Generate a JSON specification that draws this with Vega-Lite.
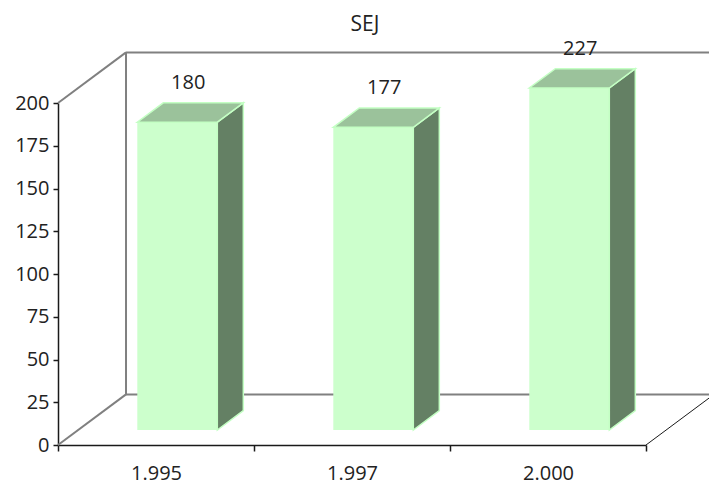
{
  "$schema": "https://vega.github.io/schema/vega-lite/v6.json",
  "width": 588,
  "height": 342,
  "autosize": {"type": "none"},
  "padding": {"left": 58, "top": 103, "right": 63, "bottom": 39},
  "background": "white",
  "title": {"text": "SEJ", "font": "Open Sans", "fontSize": 21, "fontWeight": "normal", "color": "#222222", "anchor": "middle", "frame": "group", "dx": 13, "baseline": "bottom", "offset": -17},
  "config": {
    "view": {"stroke": null},
    "text": {"font": "Open Sans"}
  },
  "data": {"values": [
    {"year": "1.995", "value": 180},
    {"year": "1.997", "value": 177},
    {"year": "2.000", "value": 227}
  ]},
  "transform": [
    {"window": [{"op": "row_number", "as": "rn"}]},
    {"calculate": "datum.rn - 1", "as": "i"},
    {"calculate": "min(datum.value, 200)", "as": "h"},
    {"calculate": "datum.i + 0.4046", "as": "xl"},
    {"calculate": "datum.i + 0.8128", "as": "xr"},
    {"calculate": "8.76", "as": "yb"},
    {"calculate": "8.76 + datum.h", "as": "yt"}
  ],
  "layer": [
    {
      "data": {"values": [{}]},
      "mark": {"type": "rule", "color": "#808080", "strokeWidth": 2},
      "encoding": {
        "x": {"datum": 0, "type": "quantitative", "title": null, "scale": {"domain": [0, 3], "nice": false, "zero": false},
          "axis": {"values": [0, 0.5, 1, 1.5, 2, 2.5, 3], "labelExpr": "datum.value == 0.5 ? '1.995' : datum.value == 1.5 ? '1.997' : datum.value == 2.5 ? '2.000' : ''", "tickOpacity": {"condition": {"test": "datum.value % 1 != 0", "value": 0}, "value": 1}, "tickSize": 6, "tickColor": "#1a1a1a", "tickWidth": 1.5, "domainColor": "#1a1a1a", "domainWidth": 1.5, "grid": false, "labelOverlap": false, "labelFlush": false, "labelBound": false, "labelFont": "Open Sans", "labelFontSize": 20, "labelColor": "#222222", "labelPadding": 12}},
        "y": {"datum": 0, "type": "quantitative", "title": null, "scale": {"domain": [0, 200], "nice": false, "zero": false},
          "axis": {"values": [0, 25, 50, 75, 100, 125, 150, 175, 200], "tickSize": 5, "tickColor": "#1a1a1a", "tickWidth": 1.5, "domainColor": "#1a1a1a", "domainWidth": 1.5, "grid": false, "labelOverlap": false, "labelFlush": false, "labelBound": false, "labelFont": "Open Sans", "labelFontSize": 20, "labelColor": "#222222", "labelPadding": 4}},
        "x2": {"datum": 0.347},
        "y2": {"datum": 29.6}
      }
    },
    {
      "data": {"values": [{}]},
      "mark": {"type": "rule", "color": "#808080", "strokeWidth": 2},
      "encoding": {
        "x": {"datum": 0, "type": "quantitative", "title": null, "scale": {"domain": [0, 3], "nice": false, "zero": false},
          "axis": {"values": [0, 0.5, 1, 1.5, 2, 2.5, 3], "labelExpr": "datum.value == 0.5 ? '1.995' : datum.value == 1.5 ? '1.997' : datum.value == 2.5 ? '2.000' : ''", "tickOpacity": {"condition": {"test": "datum.value % 1 != 0", "value": 0}, "value": 1}, "tickSize": 6, "tickColor": "#1a1a1a", "tickWidth": 1.5, "domainColor": "#1a1a1a", "domainWidth": 1.5, "grid": false, "labelOverlap": false, "labelFlush": false, "labelBound": false, "labelFont": "Open Sans", "labelFontSize": 20, "labelColor": "#222222", "labelPadding": 12}},
        "y": {"datum": 200, "type": "quantitative", "title": null, "scale": {"domain": [0, 200], "nice": false, "zero": false},
          "axis": {"values": [0, 25, 50, 75, 100, 125, 150, 175, 200], "tickSize": 5, "tickColor": "#1a1a1a", "tickWidth": 1.5, "domainColor": "#1a1a1a", "domainWidth": 1.5, "grid": false, "labelOverlap": false, "labelFlush": false, "labelBound": false, "labelFont": "Open Sans", "labelFontSize": 20, "labelColor": "#222222", "labelPadding": 4}},
        "x2": {"datum": 0.347},
        "y2": {"datum": 229.6}
      }
    },
    {
      "data": {"values": [{}]},
      "mark": {"type": "rule", "color": "#808080", "strokeWidth": 2},
      "encoding": {
        "x": {"datum": 0.347, "type": "quantitative", "title": null, "scale": {"domain": [0, 3], "nice": false, "zero": false},
          "axis": {"values": [0, 0.5, 1, 1.5, 2, 2.5, 3], "labelExpr": "datum.value == 0.5 ? '1.995' : datum.value == 1.5 ? '1.997' : datum.value == 2.5 ? '2.000' : ''", "tickOpacity": {"condition": {"test": "datum.value % 1 != 0", "value": 0}, "value": 1}, "tickSize": 6, "tickColor": "#1a1a1a", "tickWidth": 1.5, "domainColor": "#1a1a1a", "domainWidth": 1.5, "grid": false, "labelOverlap": false, "labelFlush": false, "labelBound": false, "labelFont": "Open Sans", "labelFontSize": 20, "labelColor": "#222222", "labelPadding": 12}},
        "y": {"datum": 29.6, "type": "quantitative", "title": null, "scale": {"domain": [0, 200], "nice": false, "zero": false},
          "axis": {"values": [0, 25, 50, 75, 100, 125, 150, 175, 200], "tickSize": 5, "tickColor": "#1a1a1a", "tickWidth": 1.5, "domainColor": "#1a1a1a", "domainWidth": 1.5, "grid": false, "labelOverlap": false, "labelFlush": false, "labelBound": false, "labelFont": "Open Sans", "labelFontSize": 20, "labelColor": "#222222", "labelPadding": 4}},
        "y2": {"datum": 229.6}
      }
    },
    {
      "data": {"values": [{}]},
      "mark": {"type": "rule", "color": "#808080", "strokeWidth": 2},
      "encoding": {
        "x": {"datum": 0.347, "type": "quantitative", "title": null, "scale": {"domain": [0, 3], "nice": false, "zero": false},
          "axis": {"values": [0, 0.5, 1, 1.5, 2, 2.5, 3], "labelExpr": "datum.value == 0.5 ? '1.995' : datum.value == 1.5 ? '1.997' : datum.value == 2.5 ? '2.000' : ''", "tickOpacity": {"condition": {"test": "datum.value % 1 != 0", "value": 0}, "value": 1}, "tickSize": 6, "tickColor": "#1a1a1a", "tickWidth": 1.5, "domainColor": "#1a1a1a", "domainWidth": 1.5, "grid": false, "labelOverlap": false, "labelFlush": false, "labelBound": false, "labelFont": "Open Sans", "labelFontSize": 20, "labelColor": "#222222", "labelPadding": 12}},
        "y": {"datum": 29.6, "type": "quantitative", "title": null, "scale": {"domain": [0, 200], "nice": false, "zero": false},
          "axis": {"values": [0, 25, 50, 75, 100, 125, 150, 175, 200], "tickSize": 5, "tickColor": "#1a1a1a", "tickWidth": 1.5, "domainColor": "#1a1a1a", "domainWidth": 1.5, "grid": false, "labelOverlap": false, "labelFlush": false, "labelBound": false, "labelFont": "Open Sans", "labelFontSize": 20, "labelColor": "#222222", "labelPadding": 4}},
        "x2": {"datum": 3.347}
      }
    },
    {
      "data": {"values": [{}]},
      "mark": {"type": "rule", "color": "#808080", "strokeWidth": 2},
      "encoding": {
        "x": {"datum": 0.347, "type": "quantitative", "title": null, "scale": {"domain": [0, 3], "nice": false, "zero": false},
          "axis": {"values": [0, 0.5, 1, 1.5, 2, 2.5, 3], "labelExpr": "datum.value == 0.5 ? '1.995' : datum.value == 1.5 ? '1.997' : datum.value == 2.5 ? '2.000' : ''", "tickOpacity": {"condition": {"test": "datum.value % 1 != 0", "value": 0}, "value": 1}, "tickSize": 6, "tickColor": "#1a1a1a", "tickWidth": 1.5, "domainColor": "#1a1a1a", "domainWidth": 1.5, "grid": false, "labelOverlap": false, "labelFlush": false, "labelBound": false, "labelFont": "Open Sans", "labelFontSize": 20, "labelColor": "#222222", "labelPadding": 12}},
        "y": {"datum": 229.6, "type": "quantitative", "title": null, "scale": {"domain": [0, 200], "nice": false, "zero": false},
          "axis": {"values": [0, 25, 50, 75, 100, 125, 150, 175, 200], "tickSize": 5, "tickColor": "#1a1a1a", "tickWidth": 1.5, "domainColor": "#1a1a1a", "domainWidth": 1.5, "grid": false, "labelOverlap": false, "labelFlush": false, "labelBound": false, "labelFont": "Open Sans", "labelFontSize": 20, "labelColor": "#222222", "labelPadding": 4}},
        "x2": {"datum": 3.347}
      }
    },
    {
      "data": {"values": [{}]},
      "mark": {"type": "rule", "color": "#1a1a1a", "strokeWidth": 1},
      "encoding": {
        "x": {"datum": 3, "type": "quantitative", "title": null, "scale": {"domain": [0, 3], "nice": false, "zero": false},
          "axis": {"values": [0, 0.5, 1, 1.5, 2, 2.5, 3], "labelExpr": "datum.value == 0.5 ? '1.995' : datum.value == 1.5 ? '1.997' : datum.value == 2.5 ? '2.000' : ''", "tickOpacity": {"condition": {"test": "datum.value % 1 != 0", "value": 0}, "value": 1}, "tickSize": 6, "tickColor": "#1a1a1a", "tickWidth": 1.5, "domainColor": "#1a1a1a", "domainWidth": 1.5, "grid": false, "labelOverlap": false, "labelFlush": false, "labelBound": false, "labelFont": "Open Sans", "labelFontSize": 20, "labelColor": "#222222", "labelPadding": 12}},
        "y": {"datum": 0, "type": "quantitative", "title": null, "scale": {"domain": [0, 200], "nice": false, "zero": false},
          "axis": {"values": [0, 25, 50, 75, 100, 125, 150, 175, 200], "tickSize": 5, "tickColor": "#1a1a1a", "tickWidth": 1.5, "domainColor": "#1a1a1a", "domainWidth": 1.5, "grid": false, "labelOverlap": false, "labelFlush": false, "labelBound": false, "labelFont": "Open Sans", "labelFontSize": 20, "labelColor": "#222222", "labelPadding": 4}},
        "x2": {"datum": 3.347},
        "y2": {"datum": 29.6}
      }
    },
    {
      "mark": {"type": "rect", "fill": "#CCFFCC"},
      "encoding": {
        "x": {"field": "xl", "type": "quantitative", "title": null, "scale": {"domain": [0, 3], "nice": false, "zero": false},
          "axis": {"values": [0, 0.5, 1, 1.5, 2, 2.5, 3], "labelExpr": "datum.value == 0.5 ? '1.995' : datum.value == 1.5 ? '1.997' : datum.value == 2.5 ? '2.000' : ''", "tickOpacity": {"condition": {"test": "datum.value % 1 != 0", "value": 0}, "value": 1}, "tickSize": 6, "tickColor": "#1a1a1a", "tickWidth": 1.5, "domainColor": "#1a1a1a", "domainWidth": 1.5, "grid": false, "labelOverlap": false, "labelFlush": false, "labelBound": false, "labelFont": "Open Sans", "labelFontSize": 20, "labelColor": "#222222", "labelPadding": 12}},
        "x2": {"field": "xr"},
        "y": {"field": "yb", "type": "quantitative", "title": null, "scale": {"domain": [0, 200], "nice": false, "zero": false},
          "axis": {"values": [0, 25, 50, 75, 100, 125, 150, 175, 200], "tickSize": 5, "tickColor": "#1a1a1a", "tickWidth": 1.5, "domainColor": "#1a1a1a", "domainWidth": 1.5, "grid": false, "labelOverlap": false, "labelFlush": false, "labelBound": false, "labelFont": "Open Sans", "labelFontSize": 20, "labelColor": "#222222", "labelPadding": 4}},
        "y2": {"field": "yt"}
      }
    },
    {
      "transform": [
        {"calculate": "[0, 1]", "as": "k"},
        {"flatten": ["k"]},
        {"calculate": "datum.xr + datum.k * 0.1327", "as": "sx"},
        {"calculate": "datum.yb + datum.k * 11.33", "as": "sy"},
        {"calculate": "datum.yt + datum.k * 11.33", "as": "sy2"}
      ],
      "mark": {"type": "area", "orient": "vertical", "fill": "#648064", "stroke": "#C4FFC4", "strokeWidth": 1.5},
      "encoding": {
        "x": {"field": "sx", "type": "quantitative", "title": null, "scale": {"domain": [0, 3], "nice": false, "zero": false},
          "axis": {"values": [0, 0.5, 1, 1.5, 2, 2.5, 3], "labelExpr": "datum.value == 0.5 ? '1.995' : datum.value == 1.5 ? '1.997' : datum.value == 2.5 ? '2.000' : ''", "tickOpacity": {"condition": {"test": "datum.value % 1 != 0", "value": 0}, "value": 1}, "tickSize": 6, "tickColor": "#1a1a1a", "tickWidth": 1.5, "domainColor": "#1a1a1a", "domainWidth": 1.5, "grid": false, "labelOverlap": false, "labelFlush": false, "labelBound": false, "labelFont": "Open Sans", "labelFontSize": 20, "labelColor": "#222222", "labelPadding": 12}},
        "y": {"field": "sy2", "type": "quantitative", "title": null, "stack": null, "scale": {"domain": [0, 200], "nice": false, "zero": false},
          "axis": {"values": [0, 25, 50, 75, 100, 125, 150, 175, 200], "tickSize": 5, "tickColor": "#1a1a1a", "tickWidth": 1.5, "domainColor": "#1a1a1a", "domainWidth": 1.5, "grid": false, "labelOverlap": false, "labelFlush": false, "labelBound": false, "labelFont": "Open Sans", "labelFontSize": 20, "labelColor": "#222222", "labelPadding": 4}},
        "y2": {"field": "sy"},
        "detail": {"field": "year"}
      }
    },
    {
      "transform": [
        {"calculate": "[0, 1]", "as": "k"},
        {"flatten": ["k"]},
        {"calculate": "datum.xl + datum.k * 0.1327", "as": "tx"},
        {"calculate": "datum.xr + datum.k * 0.1327", "as": "tx2"},
        {"calculate": "datum.yt + datum.k * 11.33", "as": "ty"}
      ],
      "mark": {"type": "area", "orient": "horizontal", "fill": "#9BC29B", "stroke": "#C4FFC4", "strokeWidth": 1.5},
      "encoding": {
        "y": {"field": "ty", "type": "quantitative", "title": null, "scale": {"domain": [0, 200], "nice": false, "zero": false},
          "axis": {"values": [0, 25, 50, 75, 100, 125, 150, 175, 200], "tickSize": 5, "tickColor": "#1a1a1a", "tickWidth": 1.5, "domainColor": "#1a1a1a", "domainWidth": 1.5, "grid": false, "labelOverlap": false, "labelFlush": false, "labelBound": false, "labelFont": "Open Sans", "labelFontSize": 20, "labelColor": "#222222", "labelPadding": 4}},
        "x": {"field": "tx2", "type": "quantitative", "title": null, "stack": null, "scale": {"domain": [0, 3], "nice": false, "zero": false},
          "axis": {"values": [0, 0.5, 1, 1.5, 2, 2.5, 3], "labelExpr": "datum.value == 0.5 ? '1.995' : datum.value == 1.5 ? '1.997' : datum.value == 2.5 ? '2.000' : ''", "tickOpacity": {"condition": {"test": "datum.value % 1 != 0", "value": 0}, "value": 1}, "tickSize": 6, "tickColor": "#1a1a1a", "tickWidth": 1.5, "domainColor": "#1a1a1a", "domainWidth": 1.5, "grid": false, "labelOverlap": false, "labelFlush": false, "labelBound": false, "labelFont": "Open Sans", "labelFontSize": 20, "labelColor": "#222222", "labelPadding": 12}},
        "x2": {"field": "tx"},
        "detail": {"field": "year"}
      }
    },
    {
      "transform": [
        {"calculate": "datum.xl + 0.26", "as": "lx"}
      ],
      "mark": {"type": "text", "font": "Open Sans", "fontSize": 20, "color": "#222222", "align": "center", "baseline": "middle", "dy": -39},
      "encoding": {
        "x": {"field": "lx", "type": "quantitative", "title": null, "scale": {"domain": [0, 3], "nice": false, "zero": false},
          "axis": {"values": [0, 0.5, 1, 1.5, 2, 2.5, 3], "labelExpr": "datum.value == 0.5 ? '1.995' : datum.value == 1.5 ? '1.997' : datum.value == 2.5 ? '2.000' : ''", "tickOpacity": {"condition": {"test": "datum.value % 1 != 0", "value": 0}, "value": 1}, "tickSize": 6, "tickColor": "#1a1a1a", "tickWidth": 1.5, "domainColor": "#1a1a1a", "domainWidth": 1.5, "grid": false, "labelOverlap": false, "labelFlush": false, "labelBound": false, "labelFont": "Open Sans", "labelFontSize": 20, "labelColor": "#222222", "labelPadding": 12}},
        "y": {"field": "yt", "type": "quantitative", "title": null, "scale": {"domain": [0, 200], "nice": false, "zero": false},
          "axis": {"values": [0, 25, 50, 75, 100, 125, 150, 175, 200], "tickSize": 5, "tickColor": "#1a1a1a", "tickWidth": 1.5, "domainColor": "#1a1a1a", "domainWidth": 1.5, "grid": false, "labelOverlap": false, "labelFlush": false, "labelBound": false, "labelFont": "Open Sans", "labelFontSize": 20, "labelColor": "#222222", "labelPadding": 4}},
        "text": {"field": "value", "type": "quantitative"}
      }
    }
  ]
}
